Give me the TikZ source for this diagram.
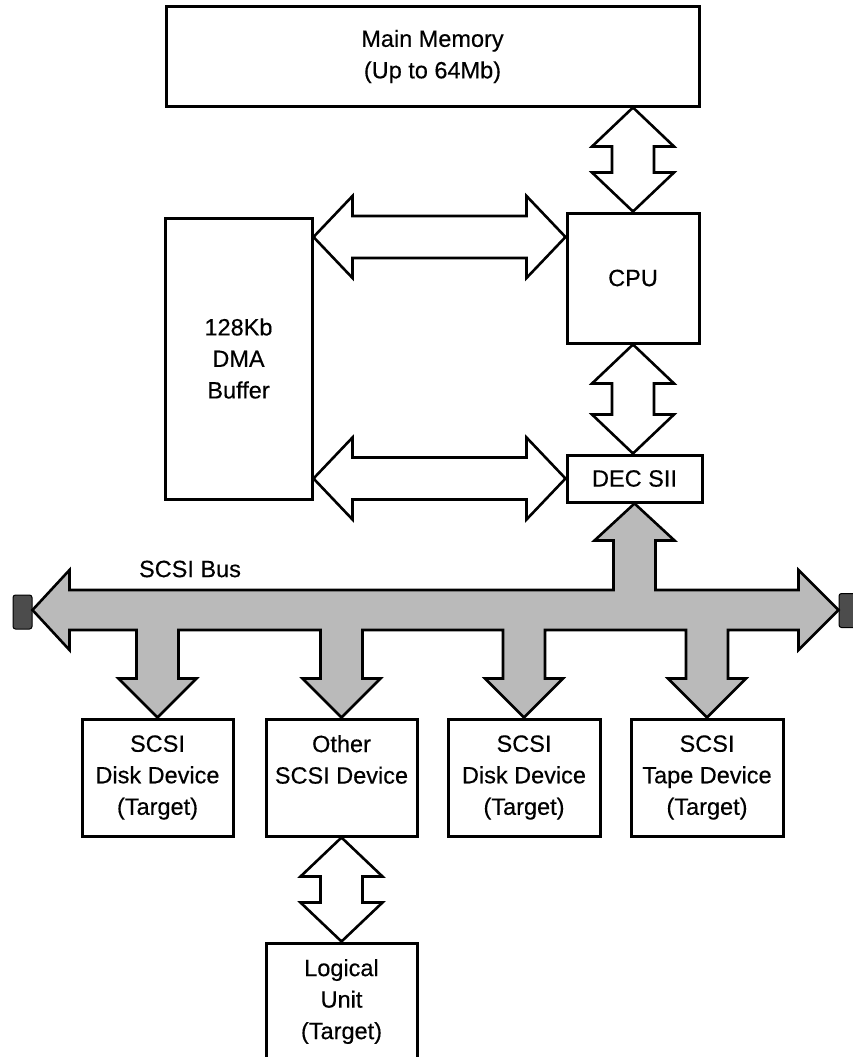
\documentclass[tikz,border=0pt]{standalone}
\usepackage{fontspec}
\setmainfont{Liberation Sans}
\newfontfamily\diagfont{Liberation Sans}[FakeBold=0.35]
\usetikzlibrary{calc}
\tikzset{
  box/.style={draw, line width=3pt, fill=white, inner sep=0pt, align=center,
    font=\diagfont\fontsize{23.5}{31.5}\selectfont},
  dblarrow/.style={draw, line width=2.6pt, fill=white, line join=miter},
  busshape/.style={draw, line width=2.6pt, fill=black!27, line join=miter},
  term/.style={draw=black, line width=1pt, fill=black!70, rounded corners=2.5pt,
    minimum width=19pt, minimum height=34pt, inner sep=0pt},
  lbl/.style={font=\diagfont\fontsize{23.5}{31.5}\selectfont, inner sep=0pt}
}
\newcommand\hdarrow[2]{\path[dblarrow] let \p1=(#1), \p2=(#2) in
  (\x1,\y1) -- (\x1+39pt,\y1+41pt) -- (\x1+39pt,\y1+21pt) -- (\x2-39pt,\y1+21pt)
  -- (\x2-39pt,\y1+41pt) -- (\x2,\y1) -- (\x2-39pt,\y1-41pt) -- (\x2-39pt,\y1-21pt)
  -- (\x1+39pt,\y1-21pt) -- (\x1+39pt,\y1-41pt) -- cycle;}
\newcommand\vdarrow[2]{\path[dblarrow] let \p1=(#1), \p2=(#2) in
  (\x1,\y1) -- (\x1+41pt,\y1-39pt) -- (\x1+21pt,\y1-39pt) -- (\x1+21pt,\y2+39pt)
  -- (\x1+41pt,\y2+39pt) -- (\x1,\y2) -- (\x1-41pt,\y2+39pt) -- (\x1-21pt,\y2+39pt)
  -- (\x1-21pt,\y1-39pt) -- (\x1-41pt,\y1-39pt) -- cycle;}
\begin{document}
\begin{tikzpicture}[x=1pt,y=-1pt]
\useasboundingbox (0,0) rectangle (853,1057);
\clip (0,0) rectangle (853,1057);

% boxes
\node[box, minimum width=533pt, minimum height=99pt] (mm) at (432.5,56.5) {Main Memory\\(Up to 64Mb)};
\node[box, minimum width=132pt, minimum height=130pt] (cpu) at (633,278) {CPU};
\node[box, minimum width=135pt, minimum height=47pt] (dec) at (634.5,478.5) {DEC SII};
\node[box, minimum width=147pt, minimum height=281pt] (dma) at (238.5,358.5) {128Kb\\DMA\\Buffer};
\node[box, minimum width=151pt, minimum height=117pt] (d1) at (157.5,777.5) {SCSI\\Disk Device\\(Target)};
\node[box, minimum width=151pt, minimum height=117pt] (d2) at (341.5,777.5) {Other\\SCSI Device\\\phantom{(Target)}};
\node[box, minimum width=152pt, minimum height=117pt] (d3) at (524,777.5) {SCSI\\Disk Device\\(Target)};
\node[box, minimum width=152pt, minimum height=117pt] (d4) at (707,777.5) {SCSI\\Tape Device\\(Target)};
\node[box, minimum width=151pt, minimum height=117pt] (lu) at (341.5,1001.5) {Logical\\Unit\\(Target)};

% terminators
\node[term] (tl) at (22.5,612) {};
\node[term] (tr) at (848.5,610.5) {};

% double arrows
\vdarrow{cpu.north |- mm.south}{cpu.north}
\vdarrow{cpu.south}{cpu.south |- dec.north}
\hdarrow{dma.east |- 0,237}{cpu.west |- 0,237}
\hdarrow{dma.east |- dec.west}{dec.west}
\vdarrow{d2.south}{d2.south |- lu.north}

% SCSI bus
\path[busshape] let \p0=(0,610), \p1=(d1.north), \p2=(d2.north), \p3=(d3.north),
  \p4=(d4.north), \p5=(dec.south), \p6=(tl.east), \p7=(tr.west) in
  (\x6,\y0) -- (\x6+37pt,\y0+40pt) -- (\x6+37pt,\y0+20pt)
  -- (\x5-21pt,\y0+20pt) -- (\x5-21pt,\y5-37pt) -- (\x5-40pt,\y5-37pt) -- (\x5,\y5)
  -- (\x5+40pt,\y5-37pt) -- (\x5+21pt,\y5-37pt) -- (\x5+21pt,\y0+20pt)
  -- (\x7-40pt,\y0+20pt) -- (\x7-40pt,\y0+40pt) -- (\x7,\y0)
  -- (\x7-40pt,\y0-40pt) -- (\x7-40pt,\y0-20pt)
  -- (\x4+21pt,\y0-20pt) -- (\x4+21pt,\y4+39pt) -- (\x4+39pt,\y4+39pt) -- (\x4,\y4)
  -- (\x4-39pt,\y4+39pt) -- (\x4-21pt,\y4+39pt) -- (\x4-21pt,\y0-20pt)
  -- (\x3+21pt,\y0-20pt) -- (\x3+21pt,\y3+39pt) -- (\x3+39pt,\y3+39pt) -- (\x3,\y3)
  -- (\x3-39pt,\y3+39pt) -- (\x3-21pt,\y3+39pt) -- (\x3-21pt,\y0-20pt)
  -- (\x2+21pt,\y0-20pt) -- (\x2+21pt,\y2+39pt) -- (\x2+39pt,\y2+39pt) -- (\x2,\y2)
  -- (\x2-39pt,\y2+39pt) -- (\x2-21pt,\y2+39pt) -- (\x2-21pt,\y0-20pt)
  -- (\x1+21pt,\y0-20pt) -- (\x1+21pt,\y1+39pt) -- (\x1+39pt,\y1+39pt) -- (\x1,\y1)
  -- (\x1-39pt,\y1+39pt) -- (\x1-21pt,\y1+39pt) -- (\x1-21pt,\y0-20pt)
  -- (\x6+37pt,\y0-20pt) -- (\x6+37pt,\y0-40pt) -- cycle;

\node[lbl] (bus) at (190,569) {SCSI Bus};
\end{tikzpicture}
\end{document}
